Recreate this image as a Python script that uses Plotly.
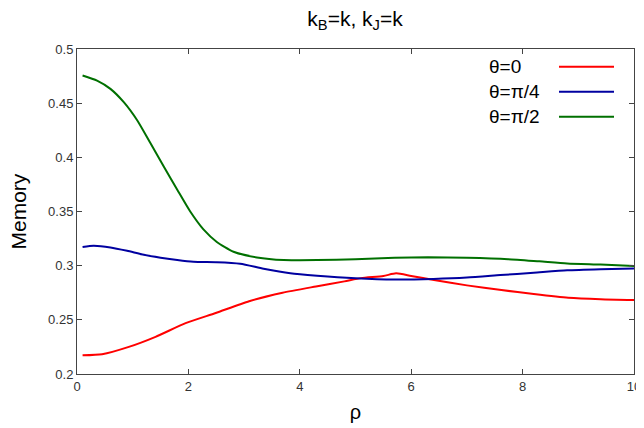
import plotly.graph_objects as go

# --- data ---
x_t0 = [0.1, 0.45, 0.93, 1.41, 1.95, 2.49, 3.09, 3.69, 4.29, 4.8, 5.1, 5.5, 5.73, 6.0, 6.41, 7.0, 7.62, 8.2, 8.82, 9.4, 10]
y_t0 = [0.2172, 0.2182, 0.225, 0.2343, 0.2469, 0.2563, 0.2672, 0.275, 0.2808, 0.2855, 0.2885, 0.2905, 0.2929, 0.2905, 0.2867, 0.2818, 0.2775, 0.2738, 0.2704, 0.269, 0.2683]

x_t4 = [0.1, 0.3, 0.6, 0.9, 1.2, 1.5, 1.8, 2.09, 2.51, 2.93, 3.35, 3.83, 4.31, 5.0, 5.7, 6.4, 7.0, 7.6, 8.2, 8.8, 9.4, 10]
y_t4 = [0.3172, 0.3183, 0.3168, 0.3137, 0.3100, 0.3074, 0.3052, 0.3036, 0.3032, 0.3018, 0.2972, 0.2930, 0.2908, 0.2885, 0.2873, 0.2878, 0.2890, 0.2913, 0.2935, 0.2958, 0.2968, 0.2975]

x_t2 = [0.1, 0.36, 0.6, 0.84, 1.08, 1.32, 1.56, 1.80, 2.03, 2.27, 2.51, 2.81, 3.23, 3.71, 4.31, 5.0, 5.7, 6.3, 7.0, 7.74, 8.3, 8.8, 9.4, 10]
y_t2 = [0.4755, 0.4708, 0.4632, 0.4509, 0.4342, 0.4129, 0.3914, 0.3701, 0.3502, 0.3335, 0.3219, 0.3128, 0.3076, 0.3052, 0.3052, 0.3060, 0.3072, 0.3077, 0.3072, 0.3060, 0.3040, 0.3021, 0.3010, 0.2997]

series_names = ["θ=0", "θ=π/4", "θ=π/2"]
series_colors = ["#ff0000", "#0000a0", "#007000"]

x_ticks = [0, 2, 4, 6, 8, 10]
y_ticks = [0.2, 0.25, 0.3, 0.35, 0.4, 0.45, 0.5]
y_tick_labels = ["0.2", "0.25", "0.3", "0.35", "0.4", "0.45", "0.5"]

FONT = "Liberation Sans, Arial, sans-serif"
OFF = 8  # page body margin offset

fig = go.Figure()
for xs, ys, name, col in zip([x_t0, x_t4, x_t2], [y_t0, y_t4, y_t2], series_names, series_colors):
    fig.add_trace(go.Scatter(x=xs, y=ys, mode="lines", name=name,
                             line=dict(color=col, width=2, shape="spline", smoothing=0.6),
                             showlegend=False))

# plot area in figure coordinates
L, R, T, B = 77 - OFF, 634 - OFF, 49 - OFF, 374 - OFF
W, H = R - L, B - T

# custom gnuplot-style legend (text then sample line)
leg_y = [66.7 - OFF, 91.7 - OFF, 116.7 - OFF]
for name, col, py in zip(series_names, series_colors, leg_y):
    yp = (B - py) / H
    fig.add_annotation(x=(487 - OFF - L) / W, y=yp, xref="paper", yref="paper",
                       text=name, showarrow=False, xanchor="left", yanchor="middle",
                       font=dict(family=FONT, size=19, color="#000000"))
    fig.add_shape(type="line", xref="paper", yref="paper",
                  x0=(559 - OFF - L) / W, x1=(614 - OFF - L) / W, y0=yp, y1=yp,
                  line=dict(color=col, width=2))

# y-axis title as an annotation so it does not push the margin
fig.add_annotation(x=(18 - OFF - L) / W, y=0.5, xref="paper", yref="paper",
                   text="Memory", textangle=-90, showarrow=False,
                   xanchor="center", yanchor="middle",
                   font=dict(family=FONT, size=21, color="#000000"))

axis_common = dict(showline=True, linecolor="#444444", linewidth=1, mirror="allticks",
                   ticks="inside", ticklen=5, tickcolor="#444444", showgrid=False,
                   zeroline=False, tickfont=dict(family=FONT, size=13, color="#333333"))

fig.update_xaxes(range=[0, 10], tickvals=x_ticks,
                 title=dict(text="ρ", font=dict(family=FONT, size=20, color="#000000"), standoff=12),
                 **axis_common)
fig.update_yaxes(range=[0.2, 0.5], tickvals=y_ticks, ticktext=y_tick_labels,
                 **axis_common)

fig.update_layout(
    width=644, height=428,
    margin=dict(l=L, r=644 - R, t=T, b=428 - B, autoexpand=False),
    plot_bgcolor="white", paper_bgcolor="white",
    title=dict(text="k<sub>B</sub>=k, k<sub>J</sub>=k", x=347 / 644, xanchor="center",
               y=1 - 3 / 428, yanchor="top", pad=dict(t=0, b=0),
               font=dict(family=FONT, size=21, color="#000000")),
)

fig.write_html("out.html")
